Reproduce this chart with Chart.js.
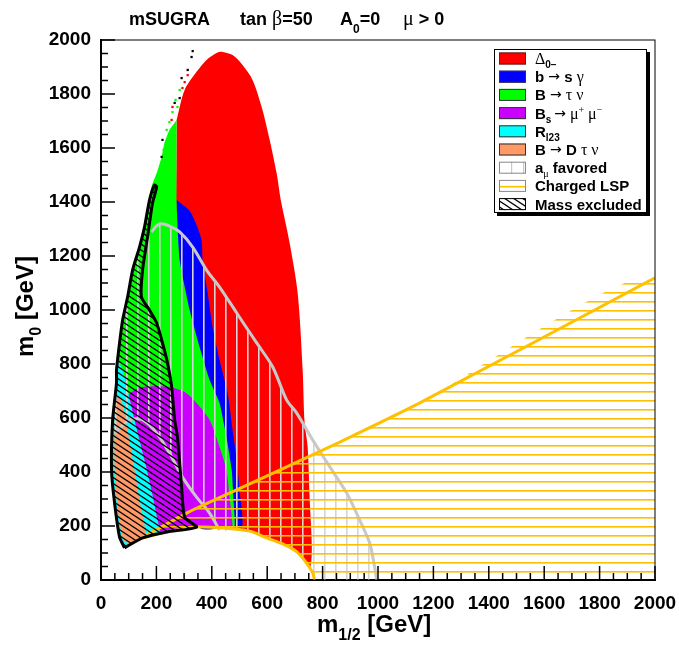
<!DOCTYPE html>
<html>
<head>
<meta charset="utf-8">
<script src="https://cdn.jsdelivr.net/npm/chart.js@4.4.1/dist/chart.umd.min.js"></script>
<style>
  body { margin: 0; background: #fff; }
  canvas { display: block; }
</style>
</head>
<body>
<canvas id="plot" width="679" height="648"></canvas>
<script>
'use strict'

// tick values of both axes (GeV)
let xTicks = [0, 200, 400, 600, 800, 1000, 1200, 1400, 1600, 1800, 2000];
let yTicks = [0, 200, 400, 600, 800, 1000, 1200, 1400, 1600, 1800, 2000];

// region outlines, [m1/2, m0] in GeV
let redZone = [[273,1704],[302,1815],[345,1882],[381,1926],[417,1952],[439,1956],[475,1944],[511,1907],[547,1852],
    [580,1752],[609,1630],[634,1507],[649,1407],[681,1248],[710,1063],[728,778],[735,582],[746,493],[753,307],
    [761,122],[756,50],[742,63],[707,104],[663,130],[598,156],[537,181],[439,193],[345,196],[273,196],[273,1704]];
let blueZone = [[273,1407],[320,1367],[345,1315],[363,1259],[367,1185],[385,1063],[403,937],[428,815],[457,693],
    [475,556],[490,444],[500,333],[508,190],[439,193],[356,196],[273,1037],[273,1407]];
let greenZone = [[273,1704],[273,1396],[284,1185],[320,1000],[356,863],[392,741],[428,656],[453,530],[472,407],
    [479,285],[482,192],[439,193],[345,196],[237,178],[150,156],[85,119],[67,159],[49,285],[38,407],[42,593],
    [56,730],[56,778],[67,878],[78,963],[96,1048],[114,1148],[139,1233],[157,1307],[175,1407],[182,1456],
    [201,1507],[219,1567],[229,1619],[247,1667],[273,1704]];
let purpleZone = [[92,678],[121,704],[150,715],[247,715],[302,696],[345,656],[392,593],[428,493],[453,407],
    [464,307],[472,233],[472,190],[439,193],[345,196],[237,178],[150,156],[85,119],[67,159],[49,285],[38,407],
    [42,593],[60,660],[92,678]];
let cyanZone = [[85,119],[67,159],[49,285],[38,407],[42,593],[56,730],[56,778],[63,807],[78,778],[92,722],
    [121,593],[157,444],[182,333],[204,222],[211,174],[150,156],[85,119]];
let orangeZone = [[60,678],[74,667],[96,556],[121,407],[146,259],[161,159],[110,133],[81,148],[60,259],[49,407],
    [49,593],[52,667],[60,678]];

// a_mu favoured band: outer arc, inner arc
let amuOuter = [[995,0],[988,48],[970,137],[934,222],[887,322],[826,419],[764,519],[706,619],[670,667],[620,789],
    [562,878],[490,989],[428,1085],[381,1148],[331,1233],[284,1289],[247,1311],[211,1319],[182,1289],[157,1241]];
let amuLeft = [[114,1148],[96,1048],[78,963],[67,878],[56,778],[56,730],[42,593]];
let amuInner = [[49,544],[103,593],[150,593],[201,544],[247,470],[294,381],[345,307],[392,248],[428,185]];

// lower edge of the scanned plane, and the charged LSP line
let floorEdge = [[150,156],[237,178],[345,196],[439,193],[537,181],[598,156],[663,130],[707,104],[742,63],[764,26],[771,0]];
let lspEdge = [[150,158],[309,248],[464,322],[645,407],[862,511],[1151,656],[2000,1119]];

// mass excluded region
let massZone = [[85,119],[67,159],[49,285],[38,407],[42,593],[56,730],[56,778],[67,878],[78,963],[96,1048],
    [114,1148],[139,1233],[157,1307],[175,1407],[193,1463],[201,1456],[186,1396],[168,1270],[150,1148],[146,1048],
    [175,1000],[201,952],[222,878],[240,804],[255,715],[266,593],[276,530],[291,344],[302,233],[345,196],
    [237,178],[150,156],[85,119]];

// stray scan points above the green tip
let greenDots = [[284,1815],[276,1752],[258,1733],[247,1696],[237,1667],[269,1778],[226,1593]];
let redDots = [[313,1870],[294,1822],[258,1752],[255,1704],[302,1844]];
let blackDots = [[331,1959],[327,1937],[313,1889],[291,1859],[284,1785],[266,1767],[222,1630],[219,1567]];

const SANS = '"Liberation Sans", Arial, Helvetica, sans-serif';
const SYM = '"Liberation Serif", "DejaVu Serif", serif';
const ARR = '"DejaVu Sans", sans-serif';
const B = n => 'bold ' + n + 'px ' + SANS;
const S = n => n + 'px ' + SYM;
const A = n => n + 'px ' + ARR;

function pts(list) {
    return list.map(p => ({x: p[0], y: p[1]}));
}

function makePattern(w, h, draw) {
    let c = document.createElement('canvas');
    c.width = w;
    c.height = h;
    let g = c.getContext('2d');
    draw(g);
    return g.createPattern(c, 'repeat');
}

let vLines = makePattern(11, 4, g => {
    g.fillStyle = '#d4d4d4';
    g.fillRect(5, 0, 1.6, 4);
});
let hLines = makePattern(4, 9, g => {
    g.fillStyle = '#ffc000';
    g.fillRect(0, 4, 4, 1.6);
});
let hatch = makePattern(9, 6, g => {
    g.strokeStyle = '#000';
    g.lineWidth = 1.3;
    for (let k = -1; k <= 1; k++) {
        g.beginPath();
        g.moveTo(k * 9 - 9, -6);
        g.lineTo(k * 9 + 18, 12);
        g.stroke();
    }
});

function area(list, fillStyle, order, tension, border, width) {
    return {
        data: pts(list),
        showLine: true,
        fill: 'shape',
        backgroundColor: fillStyle,
        borderColor: border || 'rgba(0,0,0,0)',
        borderWidth: border ? width : 0,
        pointRadius: 0,
        tension: tension,
        order: order
    };
}

function curve(list, color, width, order, tension) {
    return {
        data: pts(list),
        showLine: true,
        fill: false,
        borderColor: color,
        borderWidth: width,
        pointRadius: 0,
        tension: tension,
        order: order
    };
}

function dots(list, color, order) {
    return {
        data: pts(list),
        showLine: false,
        pointStyle: 'rect',
        pointRadius: 1.6,
        backgroundColor: color,
        borderWidth: 0,
        order: order
    };
}

function rich(ctx, x, y, parts) {
    for (let p of parts) {
        ctx.font = p.f;
        ctx.fillText(p.t, x, y + (p.dy || 0));
        x += ctx.measureText(p.t).width;
    }
}

// one text line per legend entry, split into font runs
let legendText = [
    [{t: 'Δ', f: S(16)}, {t: '0−', f: B(10), dy: 4}],
    [{t: 'b ', f: B(15)}, {t: '→', f: A(14), dy: -1}, {t: ' s ', f: B(15)}, {t: 'γ', f: S(16)}],
    [{t: 'B ', f: B(15)}, {t: '→', f: A(14), dy: -1}, {t: ' τ ν', f: S(16)}],
    [{t: 'B', f: B(15)}, {t: 's ', f: B(10), dy: 4}, {t: '→', f: A(14), dy: -1}, {t: ' μ', f: S(16)}, {t: '+', f: S(10), dy: -6}, {t: ' μ', f: S(16)}, {t: '−', f: S(10), dy: -6}],
    [{t: 'R', f: B(15)}, {t: 'l23', f: B(10), dy: 4}],
    [{t: 'B ', f: B(15)}, {t: '→', f: A(14), dy: -1}, {t: ' D ', f: B(15)}, {t: 'τ ν', f: S(16)}],
    [{t: 'a', f: B(15)}, {t: 'μ', f: S(10), dy: 4}, {t: ' favored', f: B(15)}],
    [{t: 'Charged LSP', f: B(15)}],
    [{t: 'Mass excluded', f: B(15)}]
];
let legendSwatch = ['#ff0000', '#0000ff', '#00ff00', '#cc00ff', '#00ffff', '#ff9966', 'amu', 'lsp', 'mass'];

const decorations = {
    id: 'decorations',
    afterDraw(chart) {
        const ctx = chart.ctx;
        const a = chart.chartArea;
        const xs = chart.scales.x;
        const ys = chart.scales.y;
        ctx.save();

        // frame
        ctx.strokeStyle = '#000';
        ctx.lineWidth = 1;
        ctx.strokeRect(a.left, a.top, a.right - a.left, a.bottom - a.top);

        // inward ticks, minor every 50
        ctx.lineWidth = 1.5;
        ctx.beginPath();
        for (let v = 0; v <= 2000; v += 50) {
            let len = v % 200 === 0 ? 14 : 7;
            let px = xs.getPixelForValue(v);
            ctx.moveTo(px, a.bottom);
            ctx.lineTo(px, a.bottom - len);
            let py = ys.getPixelForValue(v);
            ctx.moveTo(a.left, py);
            ctx.lineTo(a.left + len, py);
        }
        ctx.stroke();

        ctx.fillStyle = '#000';
        ctx.textBaseline = 'alphabetic';
        ctx.textAlign = 'left';

        // title
        rich(ctx, 129, 25, [{t: 'mSUGRA', f: B(18)}]);
        rich(ctx, 240, 25, [{t: 'tan ', f: B(18)}, {t: 'β', f: S(20)}, {t: '=50', f: B(18)}]);
        rich(ctx, 340, 25, [{t: 'A', f: B(18)}, {t: '0', f: B(12), dy: 8}, {t: '=0', f: B(18)}]);
        rich(ctx, 403, 25, [{t: 'μ', f: S(20)}, {t: ' > 0', f: B(18)}]);

        // axis titles
        rich(ctx, 317, 632, [{t: 'm', f: B(24)}, {t: '1/2', f: B(16), dy: 8}, {t: ' [GeV]', f: B(24)}]);
        ctx.save();
        ctx.translate(33, 357);
        ctx.rotate(-Math.PI / 2);
        rich(ctx, 0, 0, [{t: 'm', f: B(24)}, {t: '0', f: B(16), dy: 8}, {t: ' [GeV]', f: B(24)}]);
        ctx.restore();

        // legend box with shadow
        const L = 494, T = 49, R = 647, Bt = 213;
        ctx.fillStyle = '#000';
        ctx.fillRect(L + 3, T + 3, R - L, Bt - T);
        ctx.fillStyle = '#fff';
        ctx.fillRect(L, T, R - L, Bt - T);
        ctx.strokeStyle = '#000';
        ctx.lineWidth = 1;
        ctx.strokeRect(L + 0.5, T + 0.5, R - L - 1, Bt - T - 1);

        legendText.forEach((parts, i) => {
            let cy = 58.5 + i * 18.2;
            let sx = 499, sy = cy - 6, sw = 27, sh = 12;
            let kind = legendSwatch[i];
            if (kind === 'amu') {
                ctx.fillStyle = '#fff';
                ctx.fillRect(sx, sy, sw, sh);
                ctx.fillStyle = '#c8c8c8';
                ctx.fillRect(sx + 12, sy, 1.2, sh);
                ctx.fillRect(sx + 24, sy, 1.2, sh);
                ctx.strokeStyle = '#888';
            } else if (kind === 'lsp') {
                ctx.fillStyle = '#fff';
                ctx.fillRect(sx, sy, sw, sh);
                ctx.fillStyle = '#ffc000';
                ctx.fillRect(sx, cy, sw, 1.6);
                ctx.strokeStyle = '#888';
            } else if (kind === 'mass') {
                ctx.fillStyle = '#fff';
                ctx.fillRect(sx, sy, sw, sh);
                ctx.fillStyle = hatch;
                ctx.fillRect(sx, sy, sw, sh);
                ctx.strokeStyle = '#000';
            } else {
                ctx.fillStyle = kind;
                ctx.fillRect(sx, sy, sw, sh);
                ctx.strokeStyle = '#333';
            }
            ctx.lineWidth = 1;
            ctx.strokeRect(sx + 0.5, sy + 0.5, sw - 1, sh - 1);
            ctx.fillStyle = '#000';
            rich(ctx, 535, cy + 5.5, parts);
        });

        ctx.restore();
    }
};

let amuZone = amuOuter.concat(amuLeft, amuInner, floorEdge.slice(4), [[995, 0]]);
let lspZone = floorEdge.concat([[2000, 0]], lspEdge.slice().reverse());

const tickFont = { family: SANS, size: 19, weight: 'bold' };

// keep the plot frame fixed: drop the extra room Chart.js reserves for edge labels
function fixBox(size) {
    return s => {
        if (s.isHorizontal()) { s.height = size; } else { s.width = size; }
        s.paddingLeft = 0;
        s.paddingRight = 0;
        s.paddingTop = 0;
        s.paddingBottom = 0;
    };
}

window.onload = function () {
    new Chart(document.getElementById('plot'), {
        type: 'scatter',
        data: {
            datasets: [
                area(massZone, hatch, 1, 0.2, '#000', 3),
                curve(lspEdge, '#ffc000', 3, 2, 0.2),
                curve(floorEdge, '#ffc000', 3, 2.1, 0.3),
                area(lspZone, hLines, 3, 0.2),
                curve(amuOuter.slice(0, 19), '#c8c8c8', 3, 4, 0.3),
                curve(amuInner, '#c8c8c8', 3, 4.1, 0.3),
                area(amuZone, vLines, 5, 0.2),
                dots(blackDots, '#000', 6),
                dots(redDots, '#ff0000', 6.1),
                dots(greenDots, '#00ff00', 6.2),
                area(orangeZone, '#ff9966', 7, 0.2),
                area(cyanZone, '#00ffff', 8, 0.2),
                area(purpleZone, '#cc00ff', 9, 0.3),
                area(greenZone, '#00ff00', 10, 0.15),
                area(blueZone, '#0000ff', 11, 0.25),
                area(redZone, '#ff0000', 12, 0.3)
            ]
        },
        options: {
            responsive: false,
            animation: false,
            layout: { padding: { left: 41, right: 24, top: 40, bottom: 28 } },
            plugins: { legend: { display: false }, tooltip: { enabled: false } },
            scales: {
                x: {
                    type: 'linear', min: 0, max: 2000,
                    afterBuildTicks: s => { s.ticks = xTicks.map(v => ({value: v})); },
                    afterFit: fixBox(40),
                    ticks: { color: '#000', font: tickFont, padding: 12, maxRotation: 0, autoSkip: false, callback: v => String(v) },
                    grid: { display: false, drawTicks: false },
                    border: { display: true, color: '#000', width: 2 }
                },
                y: {
                    type: 'linear', min: 0, max: 2000,
                    afterBuildTicks: s => { s.ticks = yTicks.map(v => ({value: v})); },
                    afterFit: fixBox(60),
                    ticks: { color: '#000', font: tickFont, padding: 10, autoSkip: false, callback: v => String(v) },
                    grid: { display: false, drawTicks: false },
                    border: { display: true, color: '#000', width: 2 }
                }
            }
        },
        plugins: [decorations]
    });
}
</script>
</body>
</html>
